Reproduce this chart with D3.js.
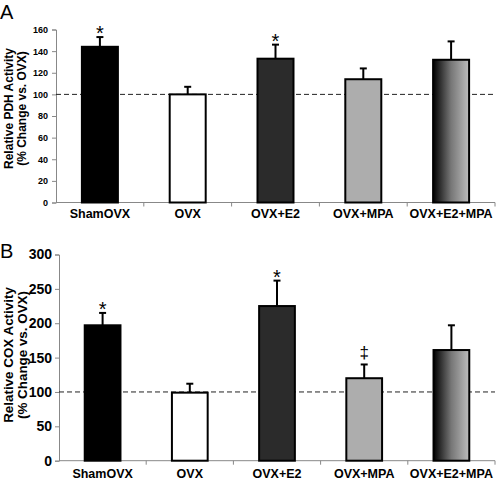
<!DOCTYPE html>
<html><head><meta charset="utf-8">
<script src="https://cdn.jsdelivr.net/npm/d3@7"></script>
<style>body{margin:0;background:#fff}svg{display:block}text{font-family:"Liberation Sans",Arial,sans-serif}</style>
</head><body><svg id="c" width="500" height="482"></svg>
<script>
const categories = ["ShamOVX","OVX","OVX+E2","OVX+MPA","OVX+E2+MPA"];
const fills = ["#000000","#ffffff","#2b2b2b","#adadad","url(#grad)"];
const pdhValues = [144, 100, 133, 114, 132];
const pdhErrors = [9, 7, 13, 10, 17];
const pdhMarks = ["*","","*","",""];
const pdhTicks = [0,20,40,60,80,100,120,140,160];
const coxValues = [197, 99, 225, 120, 161];
const coxErrors = [18, 13, 37, 20, 36];
const coxMarks = ["*","","*","‡",""];
const coxTicks = [0,50,100,150,200,250,300];

const svg = d3.select("#c");
const defs = svg.append("defs");
const g = defs.append("linearGradient").attr("id","grad").attr("x1","0").attr("x2","1").attr("y1","0").attr("y2","0");
g.append("stop").attr("offset","0").attr("stop-color","#000");
g.append("stop").attr("offset","0.5").attr("stop-color","#777");
g.append("stop").attr("offset","1").attr("stop-color","#bdbdbd");

function panel(o){
  const x = d3.scaleBand().domain(categories).range([o.x0, 495]).paddingInner(0.59).paddingOuter(0.295);
  const y = d3.scaleLinear().domain([0, o.max]).range([o.yb, o.yt]);
  const root = svg.append("g");
  const ya = root.append("g").attr("transform",`translate(${o.x0},0)`)
    .call(d3.axisLeft(y).tickValues(o.ticks).tickSize(4).tickPadding(o.tp));
  ya.select(".domain").attr("stroke","#888");
  ya.selectAll(".tick line").attr("stroke","#888");
  ya.selectAll("text").attr("font-size",o.tfs).attr("font-weight","bold").attr("fill","#000").attr("font-family","Liberation Sans, Arial, sans-serif");
  const edges = categories.map((c,i)=> x(c) - x.step()*x.paddingInner()/2 + x.step()).slice(0,-1);
  root.append("line").attr("x1",o.x0).attr("x2",495).attr("y1",y(0)).attr("y2",y(0)).attr("stroke","#888");
  root.selectAll(".xt").data(edges.concat([495])).enter().append("line")
    .attr("x1",d=>d).attr("x2",d=>d).attr("y1",y(0)).attr("y2",y(0)+4).attr("stroke","#888");
  root.append("line").attr("x1",o.x0).attr("x2",495).attr("y1",y(100)).attr("y2",y(100))
    .attr("stroke","#222").attr("stroke-dasharray","5,3").attr("stroke-width",1);
  const data = categories.map((c,i)=>({c, v:o.vals[i], e:o.errs[i], f:fills[i], m:o.marks[i]}));
  root.selectAll(".eb").data(data).enter().append("line")
    .attr("x1",d=>x(d.c)+x.bandwidth()/2).attr("x2",d=>x(d.c)+x.bandwidth()/2)
    .attr("y1",d=>y(d.v)).attr("y2",d=>y(d.v+d.e)).attr("stroke","#000").attr("stroke-width",2);
  root.selectAll(".cap").data(data).enter().append("line")
    .attr("x1",d=>x(d.c)+x.bandwidth()/2-3.5).attr("x2",d=>x(d.c)+x.bandwidth()/2+3.5)
    .attr("y1",d=>y(d.v+d.e)).attr("y2",d=>y(d.v+d.e)).attr("stroke","#000").attr("stroke-width",2);
  root.selectAll(".bar").data(data).enter().append("rect")
    .attr("x",d=>x(d.c)).attr("width",x.bandwidth())
    .attr("y",d=>y(d.v)).attr("height",d=>y(0)-y(d.v))
    .attr("fill",d=>d.f).attr("stroke","#000").attr("stroke-width",2);
  root.selectAll(".mk").data(data).enter().append("text")
    .attr("x",d=>x(d.c)+x.bandwidth()/2).attr("y",d=>y(d.v+d.e) + (d.m==="‡"?-6:3))
    .attr("text-anchor","middle").attr("fill","#000").attr("font-size",d=>d.m==="‡"?17:20)
    .text(d=>d.m);
  root.selectAll(".cl").data(categories).enter().append("text")
    .attr("x",d=>x(d)+x.bandwidth()/2).attr("y",o.ly).attr("text-anchor","middle")
    .attr("font-size",12.5).attr("font-weight","bold").text(d=>d);
  const t = root.append("text").attr("transform",`translate(${o.tx},${o.ty}) rotate(-90)`)
    .attr("text-anchor","middle").attr("font-weight","bold").attr("font-size",o.tsz);
  t.append("tspan").attr("x",0).attr("dy",0).text(o.title1);
  t.append("tspan").attr("x",0).attr("dy",o.tsz*1.05).text(o.title2);
  root.append("text").attr("x",0).attr("y",o.lety).attr("font-size",20).text(o.letter);
}

panel({x0:56, yb:202.5, yt:29.5, max:160, ticks:pdhTicks, vals:pdhValues, errs:pdhErrors, marks:pdhMarks,
  tfs:9, tp:4, ly:218, tx:13, ty:108.5, tsz:12, title1:"Relative PDH Activity", title2:"(% Change vs. OVX)", letter:"A", lety:19});
panel({x0:59, yb:460.7, yt:254.5, max:300, ticks:coxTicks, vals:coxValues, errs:coxErrors, marks:coxMarks,
  tfs:14, tp:3, ly:478, tx:12.5, ty:355, tsz:13.4, title1:"Relative COX Activity", title2:"(% Change vs. OVX)", letter:"B", lety:258});
</script></body></html>
